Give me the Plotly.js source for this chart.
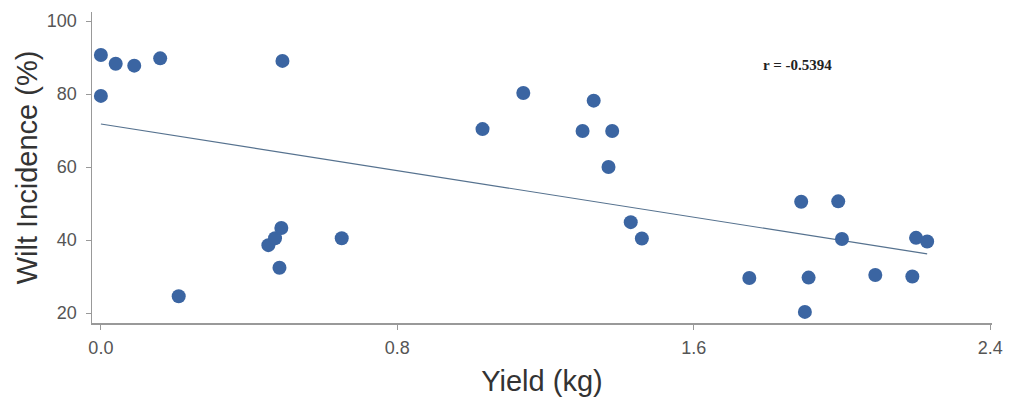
<!DOCTYPE html>
<html>
<head>
<meta charset="utf-8">
<script src="https://cdn.plot.ly/plotly-3.0.1.min.js"></script>
<style>html,body{margin:0;padding:0;background:#fff;}#chart{width:1011px;height:401px;}</style>
</head>
<body>
<div id="chart"></div>
<script>
// Yield (kg) and wilt incidence (%) per observation
const yieldKg = [0.00, 0.00, 0.04, 0.09, 0.16, 0.21, 0.49, 0.452, 0.470, 0.487, 0.482, 0.65,
                 1.03, 1.14, 1.30, 1.33, 1.38, 1.37, 1.43, 1.46,
                 1.75, 1.89, 1.91, 1.90, 1.99, 2.00, 2.09, 2.19, 2.20, 2.23];
const wiltPct = [90.7, 79.5, 88.3, 87.8, 89.8, 24.6, 89.1, 38.6, 40.5, 43.3, 32.4, 40.5,
                 70.4, 80.3, 69.9, 78.2, 69.9, 60.0, 44.9, 40.4,
                 29.6, 50.5, 29.7, 20.3, 50.6, 40.3, 30.4, 30.0, 40.6, 39.6];
// Fitted regression line (end points)
const trendX = [0.00, 2.23];
const trendY = [71.8, 36.2];
const corrLabel = "r = -0.5394";
const xTicks = [0.0, 0.8, 1.6, 2.4];
const xTickText = ["0.0", "0.8", "1.6", "2.4"];
const yTicks = [20, 40, 60, 80, 100];

const traces = [
  {x: trendX, y: trendY, type: "scatter", mode: "lines",
   line: {color: "#56728f", width: 1.2}, hoverinfo: "skip"},
  {x: yieldKg, y: wiltPct, type: "scatter", mode: "markers",
   marker: {color: "#3b65a2", size: 14, line: {width: 0}}}
];

const axisFont = {family: "Liberation Sans, Arial, sans-serif", size: 18, color: "#555"};
const titleFont = {family: "Liberation Sans, Arial, sans-serif", size: 29, color: "#333"};
const layout = {
  width: 1011, height: 401,
  margin: {l: 92, r: 19, t: 12, b: 78},
  paper_bgcolor: "#fff", plot_bgcolor: "#fff",
  showlegend: false,
  xaxis: {
    range: [-0.024, 2.405], tickvals: xTicks, ticktext: xTickText,
    showgrid: false, zeroline: false, showline: true, linecolor: "#999", linewidth: 1.5,
    ticks: "outside", ticklen: 5, tickcolor: "#999", tickfont: axisFont, ticklabelstandoff: 3,
    title: {text: "Yield (kg)", font: titleFont, standoff: 13}
  },
  yaxis: {
    range: [17.26, 102.5], tickvals: yTicks,
    showgrid: false, zeroline: false, showline: true, linecolor: "#999", linewidth: 1.5,
    ticks: "outside", ticklen: 5, tickcolor: "#999", tickfont: axisFont, ticklabelstandoff: 5,
    title: {text: "Wilt Incidence (%)", font: titleFont, standoff: 0}
  },
  annotations: [{
    x: 1.879, y: 88.0, xref: "x", yref: "y", text: "<b>" + corrLabel + "</b>", showarrow: false,
    font: {family: "Liberation Serif, Times New Roman, serif", size: 15, color: "#222"}
  }]
};
Plotly.newPlot("chart", traces, layout, {displayModeBar: false, staticPlot: true});
</script>
</body>
</html>
